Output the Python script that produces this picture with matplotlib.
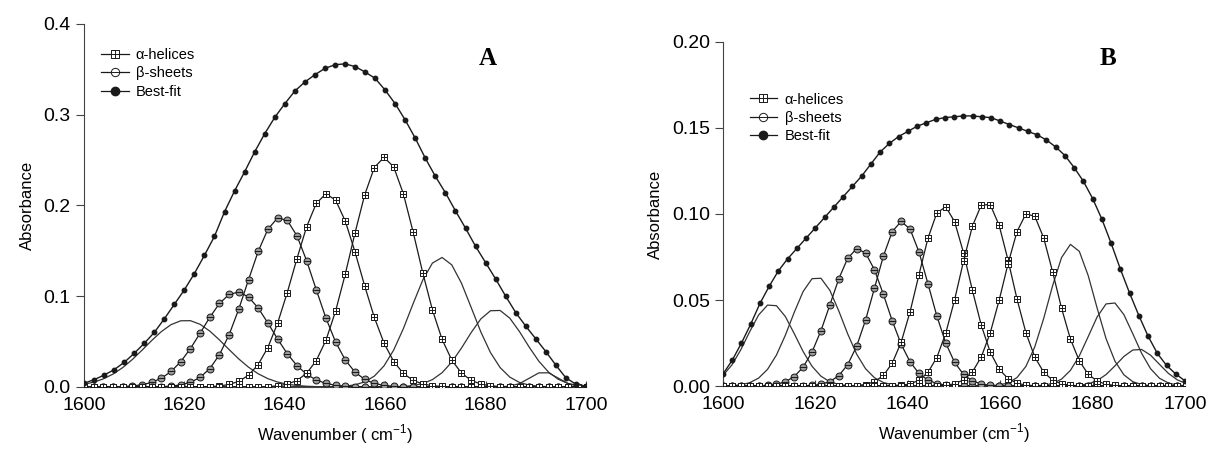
import numpy as np
import matplotlib
matplotlib.use('Agg')
import matplotlib.pyplot as plt
from matplotlib.path import Path
from matplotlib.lines import Line2D

plt.rcParams['font.family'] = ['Liberation Sans', 'DejaVu Sans']

# band parameters: centre (cm-1), height, gaussian sigma
# panel A
a_alpha_center = [1648.4, 1659.8]
a_alpha_height = [0.213, 0.253]
a_alpha_sigma = [6.6, 6.5]
a_beta_center = [1630.5, 1639.2]
a_beta_height = [0.1047, 0.187]
a_beta_sigma = [6.9, 6.7]
a_other_center = [1620.3, 1671.2, 1682.0, 1691.6]
a_other_height = [0.0735, 0.1427, 0.0853, 0.0165]
a_other_sigma = [8.0, 6.0, 5.8, 2.8]

# best-fit envelope of A, read every 2 cm-1 from 1600 to 1700
a_fit = [0.004, 0.008, 0.013, 0.019, 0.027, 0.037, 0.048, 0.060, 0.075, 0.091,
         0.107, 0.125, 0.145, 0.166, 0.193, 0.216, 0.237, 0.259, 0.279, 0.297,
         0.312, 0.326, 0.336, 0.344, 0.351, 0.355, 0.356, 0.353, 0.347, 0.340,
         0.327, 0.312, 0.294, 0.274, 0.252, 0.232, 0.214, 0.194, 0.175, 0.155,
         0.137, 0.119, 0.100, 0.082, 0.067, 0.053, 0.039, 0.024, 0.010, 0.003,
         0.001]

# panel B
b_alpha_center = [1647.8, 1656.9, 1666.3]
b_alpha_height = [0.1045, 0.107, 0.101]
b_alpha_sigma = [5.5, 5.5, 5.5]
b_beta_center = [1629.3, 1638.7]
b_beta_height = [0.080, 0.0957]
b_beta_sigma = [6.0, 5.8]
b_other_center = [1610.5, 1620.3, 1675.5, 1684.0, 1689.8]
b_other_height = [0.0477, 0.0635, 0.0825, 0.049, 0.0216]
b_other_sigma = [5.2, 5.5, 5.0, 4.8, 4.5]

b_fit = [0.007, 0.015, 0.025, 0.036, 0.048, 0.058, 0.067, 0.074, 0.080, 0.086,
         0.092, 0.098, 0.104, 0.110, 0.116, 0.122, 0.129, 0.136, 0.141, 0.145,
         0.148, 0.151, 0.153, 0.155, 0.156, 0.1565, 0.157, 0.157, 0.1565, 0.156,
         0.154, 0.152, 0.150, 0.148, 0.146, 0.143, 0.139, 0.134, 0.127, 0.119,
         0.109, 0.097, 0.083, 0.068, 0.054, 0.041, 0.029, 0.019, 0.012, 0.007,
         0.003]

legend_labels = ['α-helices', 'β-sheets', 'Best-fit']

# sampling of the spectrum (data spacing ~1.93 cm-1)
wn = np.arange(1600, 1700.5, 1.928)
wn_fit = np.arange(1600, 1701, 2)


def band(c, h, s):
    return h * np.exp(-(wn - c) ** 2 / (2 * s ** 2))


# square with a plus inside / circle with a bar inside
sq_verts = [(-1, -1), (1, -1), (1, 1), (-1, 1), (-1, -1),
            (-1, 0), (1, 0), (0, -1), (0, 1)]
sq_codes = [Path.MOVETO, Path.LINETO, Path.LINETO, Path.LINETO, Path.CLOSEPOLY,
            Path.MOVETO, Path.LINETO, Path.MOVETO, Path.LINETO]
box_plus = Path(sq_verts, sq_codes)
circ = Path.unit_circle()
circ_bar = Path(np.vstack([circ.vertices, [[-1, 0], [1, 0]]]),
                np.concatenate([circ.codes, [Path.MOVETO, Path.LINETO]]))

ink = '#1a1a1a'


def draw_panel(ax, alpha, beta, other, fit, ylim, yticks, ylabels, letter,
               letter_pos, xlabel, leg_loc):
    for c, h, s in zip(*other):
        ax.plot(wn, band(c, h, s), color='#333333', lw=0.9, zorder=2)
    for c, h, s in zip(*beta):
        ax.plot(wn, band(c, h, s), color=ink, lw=0.9, marker=circ_bar, ms=5,
                mew=0.7, mfc='#999999', mec=ink, zorder=3)
    for c, h, s in zip(*alpha):
        ax.plot(wn, band(c, h, s), color=ink, lw=0.9, marker=box_plus, ms=4.8,
                mew=0.7, mfc='white', mec=ink, zorder=4)
    ax.plot(wn_fit, fit, color=ink, lw=1.0, marker='o', ms=3.2, mfc=ink,
            mec=ink, zorder=5)

    ax.set_xlim(1600, 1700)
    ax.set_ylim(*ylim)
    ax.set_xticks(np.arange(1600, 1701, 20))
    ax.set_yticks(yticks)
    ax.set_yticklabels(ylabels)
    ax.spines['top'].set_visible(False)
    ax.spines['right'].set_visible(False)
    ax.spines['left'].set_color('#444444')
    ax.spines['bottom'].set_color('#444444')
    ax.tick_params(axis='y', direction='out', length=6, labelsize=14,
                   color='#444444')
    ax.tick_params(axis='x', direction='in', length=4, labelsize=14,
                   color='#444444', pad=7)
    ax.set_ylabel('Absorbance', fontsize=12, labelpad=6)
    ax.set_xlabel(xlabel, fontsize=12, labelpad=6)
    ax.text(letter_pos[0], letter_pos[1], letter, transform=ax.transAxes,
            fontsize=18, fontweight='bold', family='Liberation Serif',
            ha='center', va='center')

    handles = [
        Line2D([], [], color=ink, lw=0.9, marker=box_plus, ms=6, mfc='white',
               mec=ink, mew=0.7),
        Line2D([], [], color=ink, lw=0.9, marker=circ_bar, ms=6, mfc='white',
               mec=ink, mew=0.7),
        Line2D([], [], color=ink, lw=0.9, marker='o', ms=6, mfc=ink, mec=ink),
    ]
    ax.legend(handles, legend_labels, loc='upper left',
              bbox_to_anchor=leg_loc, frameon=False, fontsize=10.5,
              handlelength=1.9, handletextpad=0.5, labelspacing=0.3,
              borderaxespad=0)


fig = plt.figure(figsize=(12.08, 4.51), dpi=100)
axA = fig.add_axes([0.0695, 0.142, 0.4156, 0.805])
axB = fig.add_axes([0.5985, 0.144, 0.3825, 0.763])

draw_panel(axA,
           (a_alpha_center, a_alpha_height, a_alpha_sigma),
           (a_beta_center, a_beta_height, a_beta_sigma),
           (a_other_center, a_other_height, a_other_sigma),
           a_fit, (0, 0.4), [0, 0.1, 0.2, 0.3, 0.4],
           ['0.0', '0.1', '0.2', '0.3', '0.4'],
           'A', (0.805, 0.906), 'Wavenumber ( cm$^{\\mathregular{-1}}$)',
           (0.022, 0.95))
draw_panel(axB,
           (b_alpha_center, b_alpha_height, b_alpha_sigma),
           (b_beta_center, b_beta_height, b_beta_sigma),
           (b_other_center, b_other_height, b_other_sigma),
           b_fit, (0, 0.2), [0, 0.05, 0.10, 0.15, 0.20],
           ['0.00', '0.05', '0.10', '0.15', '0.20'],
           'B', (0.833, 0.953), 'Wavenumber (cm$^{\\mathregular{-1}}$)',
           (0.045, 0.87))

fig.savefig('out.png', dpi=100)
